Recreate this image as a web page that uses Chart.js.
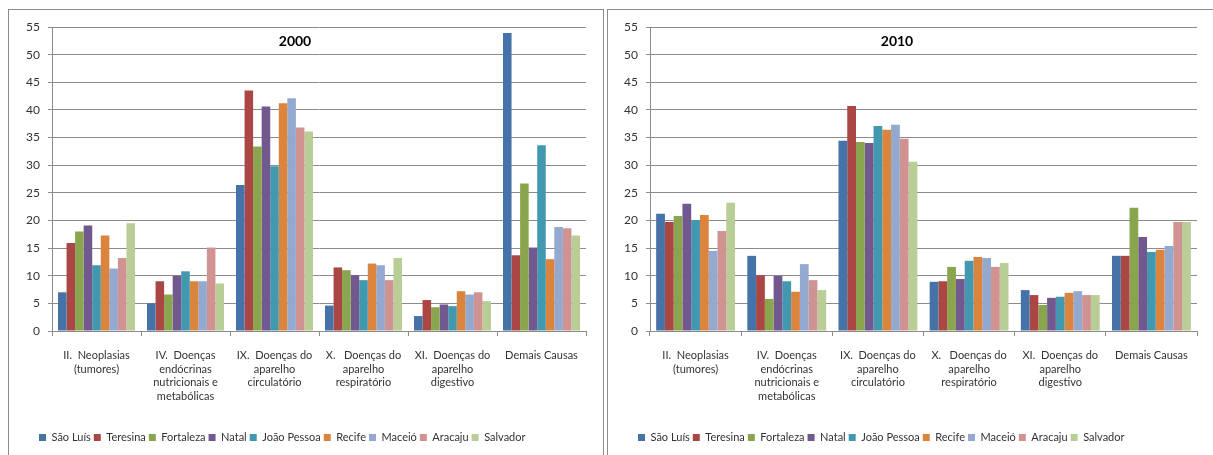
<!DOCTYPE html>
<html>
<head>
<meta charset="utf-8">
<script src="https://cdn.jsdelivr.net/npm/chart.js@4/dist/chart.umd.min.js"></script>
<style>
  html, body { margin: 0; padding: 0; background: #fff; overflow: hidden; }
  .box { position: absolute; top: 9px; border: 1px solid #8c8c8c; height: 470px; }
  #box1 { left: 8px; width: 594px; }
  #box2 { left: 607px; width: 640px; }
  canvas { display: block; }
</style>
</head>
<body>
<div class="box" id="box1"><canvas id="c2000" width="594" height="460"></canvas></div>
<div class="box" id="box2"><canvas id="c2010" width="605" height="460"></canvas></div>
<script>
const categories = [
  ['II.  Neoplasias', '(tumores)'],
  ['IV.  Doenças', 'endócrinas', 'nutricionais e', 'metabólicas'],
  ['IX.  Doenças do', 'aparelho', 'circulatório'],
  ['X.   Doenças do', 'aparelho', 'respiratório'],
  ['XI.  Doenças do', 'aparelho', 'digestivo'],
  ['Demais Causas']
];
const cities = ['São Luís', 'Teresina', 'Fortaleza', 'Natal', 'João Pessoa', 'Recife', 'Maceió', 'Aracaju', 'Salvador'];
const colors = ['#4572A7', '#AA4643', '#89A54E', '#71588F', '#4198AF', '#DB843D', '#93A9CF', '#D19392', '#B9CD96'];
const yTicks = [0, 5, 10, 15, 20, 25, 30, 35, 40, 45, 50, 55];

// one row per city, in the order of `cities`
const values2000 = [
  [7.0, 5.0, 26.4, 4.6, 2.7, 53.9],
  [15.9, 9.0, 43.5, 11.5, 5.6, 13.7],
  [18.0, 6.6, 33.4, 11.0, 4.3, 26.7],
  [19.1, 10.0, 40.6, 10.1, 4.8, 15.1],
  [11.9, 10.8, 29.8, 9.2, 4.5, 33.6],
  [17.3, 9.0, 41.2, 12.2, 7.2, 13.0],
  [11.3, 9.0, 42.1, 11.9, 6.6, 18.8],
  [13.2, 15.1, 36.8, 9.2, 7.0, 18.6],
  [19.5, 8.6, 36.1, 13.2, 5.4, 17.3]
];
const values2010 = [
  [21.2, 13.6, 34.4, 8.9, 7.4, 13.6],
  [19.7, 10.1, 40.7, 9.0, 6.5, 13.6],
  [20.8, 5.8, 34.2, 11.6, 4.7, 22.3],
  [23.0, 10.0, 34.0, 9.4, 6.0, 17.0],
  [20.1, 9.0, 37.1, 12.7, 6.2, 14.3],
  [21.0, 7.1, 36.4, 13.4, 6.9, 14.7],
  [14.5, 12.1, 37.3, 13.2, 7.2, 15.4],
  [18.1, 9.2, 34.8, 11.6, 6.5, 19.7],
  [23.2, 7.4, 30.6, 12.3, 6.5, 19.7]
];

const FONT = 'Lato, sans-serif';
const GRID = '#8c8c8c';

// title sits inside the plot area, and the legend starts a bit to the right
const extrasPlugin = {
  id: 'extras',
  afterLayout(chart, args, opts) {
    if (chart.legend) chart.legend.left = opts.legendLeft;
  },
  afterDraw(chart, args, opts) {
    const ctx = chart.ctx;
    ctx.save();
    ctx.font = 'bold 14px ' + FONT;
    ctx.fillStyle = '#000';
    ctx.textAlign = 'center';
    ctx.textBaseline = 'middle';
    ctx.fillText(opts.title, opts.titleX, opts.titleY);
    ctx.restore();
  }
};

function makeChart(id, values, title, yWidth, padRight, titleX) {
  const ctx = document.getElementById(id).getContext('2d');
  return new Chart(ctx, {
    type: 'bar',
    data: {
      labels: categories,
      datasets: cities.map((name, i) => ({
        label: name,
        data: values[i],
        backgroundColor: colors[i],
        borderWidth: 0,
        categoryPercentage: 0.865,
        barPercentage: 1.0
      }))
    },
    options: {
      responsive: false,
      animation: false,
      devicePixelRatio: 1,
      layout: { padding: { top: 17, left: 0, right: padRight, bottom: 17 } },
      plugins: {
        legend: {
          position: 'bottom',
          align: 'start',
          labels: {
            boxWidth: 7,
            boxHeight: 7,
            padding: 3,
            color: '#333',
            font: { family: FONT, size: 11 }
          }
        },
        tooltip: { enabled: false },
        extras: { title: title, titleX: titleX, titleY: 31, legendLeft: 27 }
      },
      scales: {
        x: {
          afterFit: (scale) => { scale.height = 98; },
          grid: { offset: true, drawOnChartArea: false, tickLength: 5, color: GRID },
          border: { color: GRID },
          ticks: {
            color: '#333',
            padding: 12,
            maxRotation: 0,
            autoSkip: false,
            font: { family: FONT, size: 11, lineHeight: 1.27 }
          }
        },
        y: {
          min: 0,
          max: 55,
          afterFit: (scale) => { scale.width = yWidth; },
          afterBuildTicks: (scale) => { scale.ticks = yTicks.map(v => ({ value: v })); },
          grid: { color: GRID, tickLength: 4 },
          border: { color: GRID },
          ticks: {
            color: '#333',
            padding: 8,
            font: { family: FONT, size: 12 }
          }
        }
      }
    },
    plugins: [extrasPlugin]
  });
}

makeChart('c2000', values2000, '2000', 43, 17, 286);
makeChart('c2010', values2010, '2010', 42, 16, 289);
</script>
</body>
</html>
